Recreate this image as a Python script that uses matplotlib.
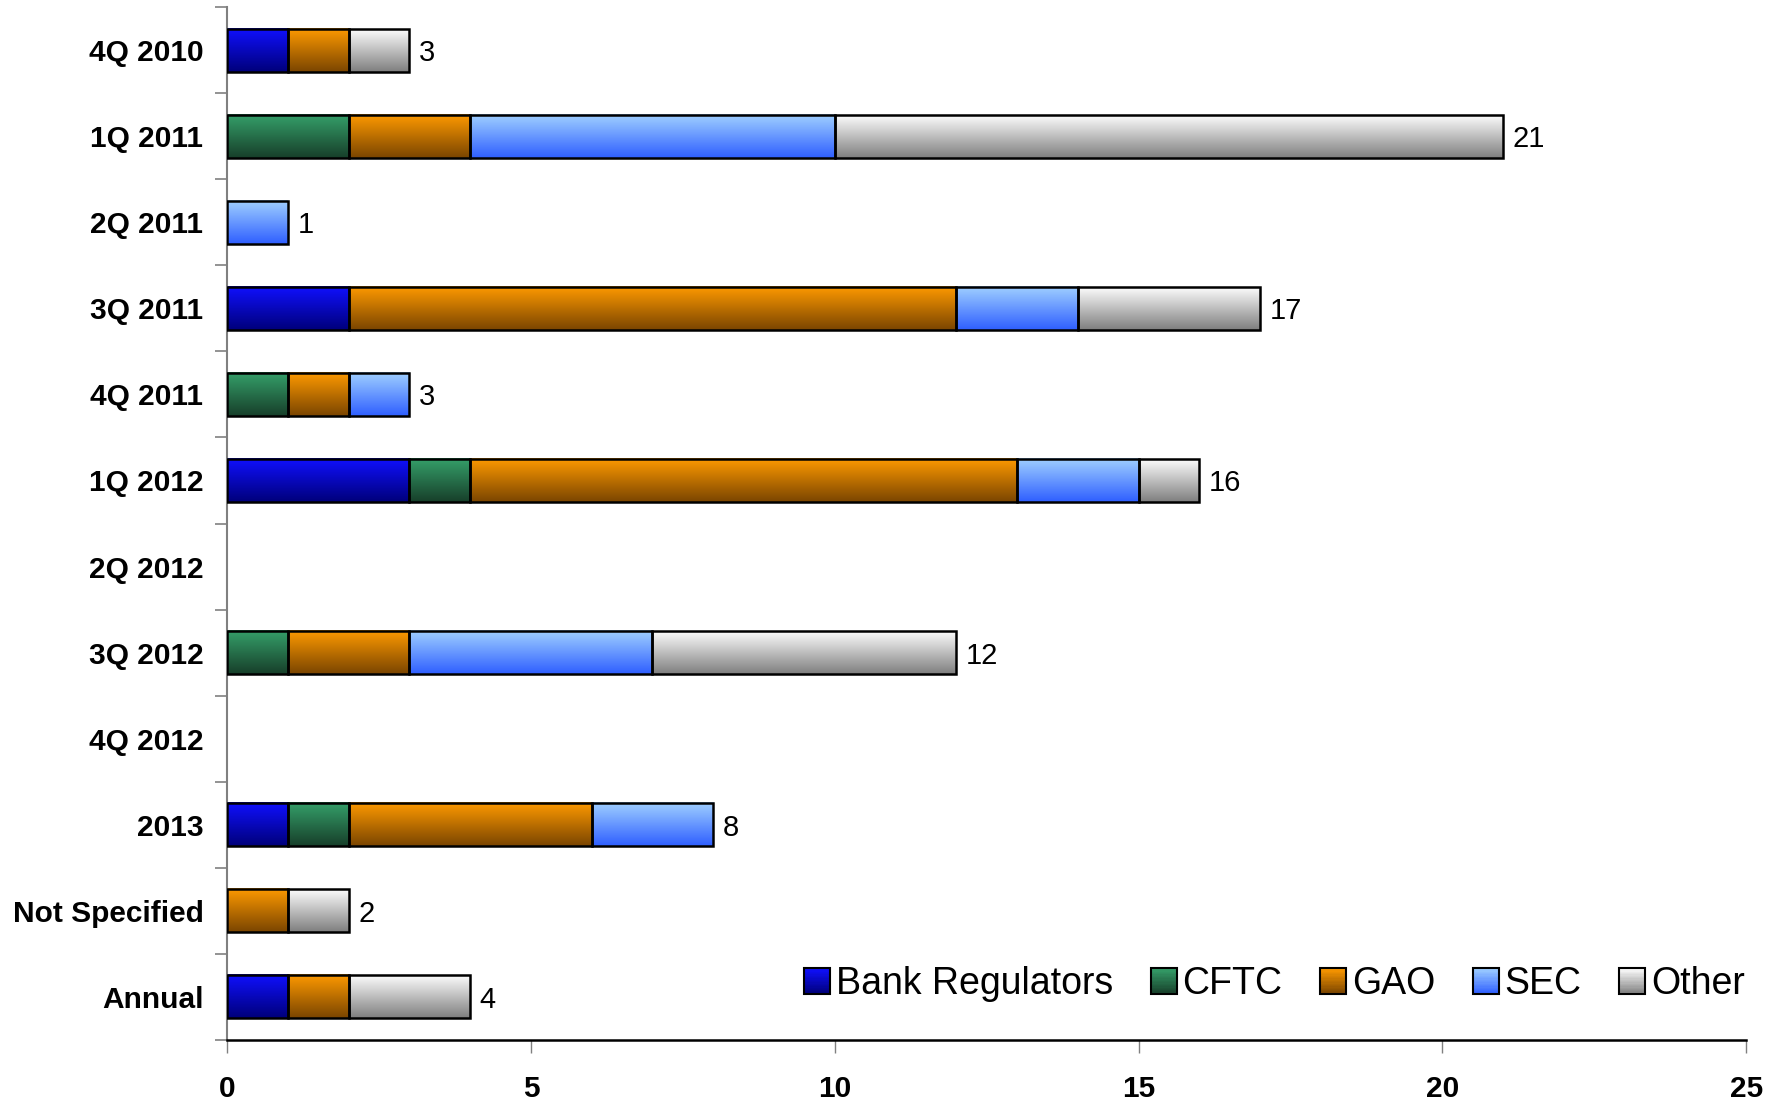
import numpy as np
import matplotlib.pyplot as plt
from matplotlib.patches import Rectangle
from matplotlib.legend_handler import HandlerBase
from matplotlib.colors import LinearSegmentedColormap, to_rgb

plt.rcParams['font.family'] = ['Liberation Sans', 'DejaVu Sans']

periods = ['4Q 2010', '1Q 2011', '2Q 2011', '3Q 2011', '4Q 2011', '1Q 2012',
           '2Q 2012', '3Q 2012', '4Q 2012', '2013', 'Not Specified', 'Annual']
agencies = ['Bank Regulators', 'CFTC', 'GAO', 'SEC', 'Other']

bank_regulators = [1, 0, 0, 2, 0, 3, 0, 0, 0, 1, 0, 1]
cftc            = [0, 2, 0, 0, 1, 1, 0, 1, 0, 1, 0, 0]
gao             = [1, 2, 0, 10, 1, 9, 0, 2, 0, 4, 1, 1]
sec             = [0, 6, 1, 2, 1, 2, 0, 4, 0, 2, 0, 0]
other           = [1, 11, 0, 3, 0, 1, 0, 5, 0, 0, 1, 2]

# (top, bottom) colours of each segment's vertical gradient
shades = [('#1010ff', '#00007a'),
          ('#35a06a', '#173f2a'),
          ('#ff9a00', '#7a4500'),
          ('#a0d0ff', '#2f5fff'),
          ('#ffffff', '#7f7f7f')]

series = np.array([bank_regulators, cftc, gao, sec, other], dtype=float)
totals = series.sum(axis=0)

fig = plt.figure(figsize=(17.82, 11.01), dpi=100)
ax = fig.add_axes([0.1274, 0.0554, 0.8526, 0.9382])

bar_h = 0.5
grad = np.linspace(0, 1, 128).reshape(-1, 1)
cmaps = [LinearSegmentedColormap.from_list(a, [s[0], s[1]]) for a, s in zip(agencies, shades)]

ypos = np.arange(len(periods))
left = np.zeros(len(periods))
for k, name in enumerate(agencies):
    vals = series[k]
    for i, v in enumerate(vals):
        if v <= 0:
            continue
        y0 = ypos[i] - bar_h / 2
        ax.imshow(grad, cmap=cmaps[k], aspect='auto', interpolation='bicubic',
                  extent=[left[i], left[i] + v, y0 + bar_h, y0], zorder=2)
        ax.barh(ypos[i], v, left=left[i], height=bar_h, facecolor='none',
                edgecolor='black', linewidth=1.8, zorder=3)
    left += vals

for i, t in enumerate(totals):
    if t > 0:
        ax.annotate(f'{int(t)}', (t, ypos[i]), xytext=(7, 0), textcoords='offset points',
                    va='center_baseline', ha='left', fontsize=21)

ax.set_xlim(0, 25)
ax.set_ylim(len(periods) - 0.5, -0.5)

ax.set_yticks(ypos)
ax.set_yticklabels(periods, fontsize=21.5, fontweight='bold')
ax.set_yticks(np.arange(-0.5, len(periods)), minor=True)
ax.tick_params(axis='y', which='major', length=0, pad=17)
ax.tick_params(axis='y', which='minor', length=9, width=1.2, color='#808080', direction='out')

ax.set_xticks(np.arange(0, 26, 5))
ax.tick_params(axis='x', length=9, width=1.0, color='#808080', direction='out', pad=16,
               labelsize=21.5)
for lab in ax.get_xticklabels():
    lab.set_fontweight('bold')

for s in ['top', 'right']:
    ax.spines[s].set_visible(False)
ax.spines['left'].set_color('#808080')
ax.spines['left'].set_linewidth(1.5)
ax.spines['bottom'].set_color('black')
ax.spines['bottom'].set_linewidth(1.8)


class GradientHandler(HandlerBase):
    def __init__(self, top, bottom):
        super().__init__()
        self.top = np.array(to_rgb(top))
        self.bottom = np.array(to_rgb(bottom))

    def create_artists(self, legend, orig_handle, xdescent, ydescent, width, height,
                       fontsize, trans):
        side = height * 1.0
        x0 = -xdescent + width - side
        y0 = -ydescent + (height - side) / 2
        n = 20
        arts = []
        for j in range(n):
            f = j / (n - 1)
            c = self.bottom * (1 - f) + self.top * f
            arts.append(Rectangle((x0, y0 + side * j / n), side, side / n + 0.3,
                                  facecolor=c, edgecolor='none', transform=trans))
        arts.append(Rectangle((x0, y0), side, side, facecolor='none',
                              edgecolor='black', linewidth=1.5, transform=trans))
        return arts


handles = [Rectangle((0, 0), 1, 1) for _ in agencies]
handler_map = {h: GradientHandler(*s) for h, s in zip(handles, shades)}
ax.legend(handles, agencies, handler_map=handler_map, ncol=5, frameon=False,
          fontsize=27, loc='lower right', bbox_to_anchor=(1.021, 0.004),
          handlelength=0.75, handletextpad=0.15, columnspacing=0.95)

fig.savefig('out.png', dpi=100)
